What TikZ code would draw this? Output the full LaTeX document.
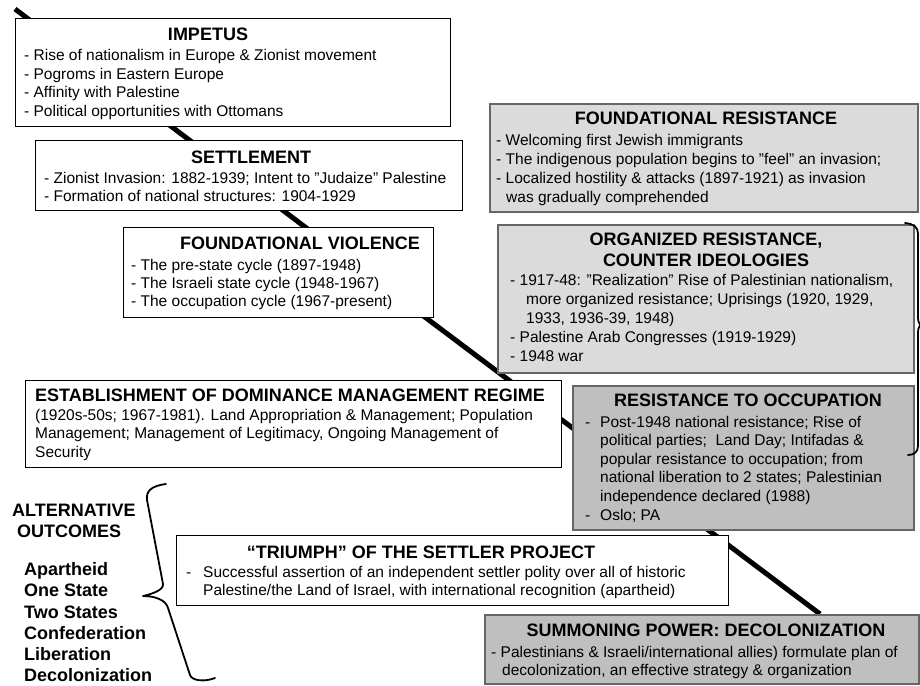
\documentclass[tikz,border=0pt]{standalone}
\usepackage{fontspec}
\setmainfont{Liberation Sans}
\usetikzlibrary{backgrounds}
\begin{document}
\begin{tikzpicture}[x=1pt,y=-1pt,
  spine/.style={line width=5pt},
  wbox/.style={draw=black, line width=1.4pt, fill=white, anchor=north west, inner sep=0pt},
  lbox/.style={draw=black!60, line width=1.6pt, fill=black!14, anchor=north west, inner sep=0pt},
  dbox/.style={draw=black!60, line width=1.6pt, fill=black!25, anchor=north west, inner sep=0pt},
  ttl/.style={font=\fontsize{18}{20}\selectfont\bfseries, anchor=base, inner sep=0pt},
  ttw/.style={font=\fontsize{18}{20}\selectfont\bfseries, anchor=base west, inner sep=0pt},
  bdy/.style={font=\fontsize{15.5}{18}\selectfont, anchor=base west, inner sep=0pt},
  bracestyle/.style={line width=1.8pt, line cap=round, line join=round}]
\useasboundingbox (0,0) rectangle (920,685);

% ---------- boxes ----------
\node[wbox, minimum width=435pt, minimum height=108pt] (impetus) at (15,18) {};
\node[wbox, minimum width=427pt, minimum height=70pt] (settle) at (35,140) {};
\node[wbox, minimum width=310pt, minimum height=90pt] (violence) at (123,227) {};
\node[wbox, minimum width=536pt, minimum height=87pt] (establish) at (25,380) {};
\node[lbox, minimum width=428pt, minimum height=108pt] (fres) at (489,103) {};
\node[lbox, minimum width=416pt, minimum height=148pt] (orgres) at (497,224) {};
\node[dbox, minimum width=341pt, minimum height=144pt] (occres) at (572,385) {};
\node[wbox, minimum width=552pt, minimum height=70pt] (triumph) at (176,535) {};
\node[dbox, minimum width=434pt, minimum height=69pt] (summon) at (484,614) {};

% ---------- spine behind the boxes ----------
\coordinate (sstart) at (15,9);
\coordinate (send) at (820,614);
\begin{scope}[on background layer]
  \fill[white] (0,0) rectangle (920,685);
  \draw[spine] (sstart) -- (send);
\end{scope}

% ---------- IMPETUS ----------
\node[ttl] (impT) at (208,41) {IMPETUS};
\node[bdy] (imp1) at (24,60) {- Rise of nationalism in Europe \& Zionist movement};
\node[bdy] (imp2) at (24,79) {- Pogroms in Eastern Europe};
\node[bdy] (imp3) at (24,97.5) {- Affinity with Palestine};
\node[bdy] (imp4) at (24,116) {- Political opportunities with Ottomans};

% ---------- SETTLEMENT ----------
\node[ttl] (setT) at (251,163) {SETTLEMENT};
\node[bdy] (set1) at (44,183.5) {- Zionist Invasion: 1882-1939; Intent to "Judaize" Palestine};
\node[bdy] (set2) at (44,201.5) {- Formation of national structures: 1904-1929};

% ---------- FOUNDATIONAL VIOLENCE ----------
\node[ttl] (vioT) at (300,249.5) {FOUNDATIONAL VIOLENCE};
\node[bdy] (vio1) at (131,270.5) {- The pre-state cycle (1897-1948)};
\node[bdy] (vio2) at (131,288.5) {- The Israeli state cycle (1948-1967)};
\node[bdy] (vio3) at (131,306.5) {- The occupation cycle (1967-present)};

% ---------- ESTABLISHMENT ----------
\node[ttw] (estT) at (35,401) {ESTABLISHMENT OF DOMINANCE MANAGEMENT REGIME};
\node[bdy] (est1) at (35,420) {(1920s-50s; 1967-1981). Land Appropriation \& Management; Population};
\node[bdy] (est2) at (35,438.5) {Management; Management of Legitimacy, Ongoing Management of};
\node[bdy] (est3) at (35,457) {Security};

% ---------- FOUNDATIONAL RESISTANCE ----------
\node[ttl] (fresT) at (706,124.5) {FOUNDATIONAL RESISTANCE};
\node[bdy] (fres1) at (496,145.5) {- Welcoming first Jewish immigrants};
\node[bdy] (fres2) at (496,164.5) {- The indigenous population begins to "feel" an invasion;};
\node[bdy] (fres3) at (496,183.5) {- Localized hostility \& attacks (1897-1921) as invasion};
\node[bdy] (fres4) at (506,202.5) {was gradually comprehended};

% ---------- ORGANIZED RESISTANCE ----------
\node[ttl] (orgT1) at (706,245) {ORGANIZED RESISTANCE,};
\node[ttl] (orgT2) at (706,266) {COUNTER IDEOLOGIES};
\node[bdy] (org1) at (510,285) {- 1917-48: "Realization" Rise of Palestinian nationalism,};
\node[bdy] (org2) at (526,304) {more organized resistance; Uprisings (1920, 1929,};
\node[bdy] (org3) at (526,323) {1933, 1936-39, 1948)};
\node[bdy] (org4) at (510,342) {- Palestine Arab Congresses (1919-1929)};
\node[bdy] (org5) at (510,361) {- 1948 war};

% ---------- RESISTANCE TO OCCUPATION ----------
\node[ttl] (occT) at (748,406.5) {RESISTANCE TO OCCUPATION};
\node[bdy] (occd1) at (585,427) {-};
\node[bdy] (occ1) at (600,427) {Post-1948 national resistance; Rise of};
\node[bdy] (occ2) at (600,445.5) {political parties;\ \ Land Day; Intifadas \&};
\node[bdy] (occ3) at (600,464) {popular resistance to occupation; from};
\node[bdy] (occ4) at (600,482.5) {national liberation to 2 states; Palestinian};
\node[bdy] (occ5) at (600,501.5) {independence declared (1988)};
\node[bdy] (occd2) at (585,520.5) {-};
\node[bdy] (occ6) at (600,520.5) {Oslo; PA};

% ---------- TRIUMPH ----------
\node[ttl] (triT) at (421,558.5) {“TRIUMPH” OF THE SETTLER PROJECT};
\node[bdy] (trid) at (186,577.5) {-};
\node[bdy] (tri1) at (203,577.5) {Successful assertion of an independent settler polity over all of historic};
\node[bdy] (tri2) at (203,595.5) {Palestine/the Land of Israel, with international recognition (apartheid)};

% ---------- SUMMONING POWER ----------
\node[ttl] (sumT) at (706,636.5) {SUMMONING POWER: DECOLONIZATION};
\node[bdy] (sum1) at (491,657.5) {- Palestinians \& Israeli/international allies) formulate plan of};
\node[bdy] (sum2) at (502,675.5) {decolonization, an effective strategy \& organization};

% ---------- ALTERNATIVE OUTCOMES ----------
\node[ttw] (altT1) at (12,516.5) {ALTERNATIVE};
\node[ttw] (altT2) at (17,537.5) {OUTCOMES};
\node[ttw] (alt1) at (24,575.5) {Apartheid};
\node[ttw] (alt2) at (24,596.5) {One State};
\node[ttw] (alt3) at (24,618) {Two States};
\node[ttw] (alt4) at (24,639.5) {Confederation};
\node[ttw] (alt5) at (24,660.5) {Liberation};
\node[ttw] (alt6) at (24,681.5) {Decolonization};

% ---------- braces ----------
\draw[bracestyle] (166,484) .. controls (150,486) and (146,492) .. (147,500)
  -- (163,584) .. controls (164,590) and (152,594) .. (143,596)
  .. controls (155,596) and (166,600) .. (168,608)
  -- (190,675) .. controls (192,681) and (205,682) .. (215,678);
\draw[bracestyle] (905,223) .. controls (914,224) and (918,227) .. (918,234)
  -- (918,318) .. controls (918,322) and (920,325) .. (921,325)
  .. controls (920,325) and (918,328) .. (918,332)
  -- (918,446) .. controls (918,452) and (914,455) .. (908,455);
\end{tikzpicture}
\end{document}
